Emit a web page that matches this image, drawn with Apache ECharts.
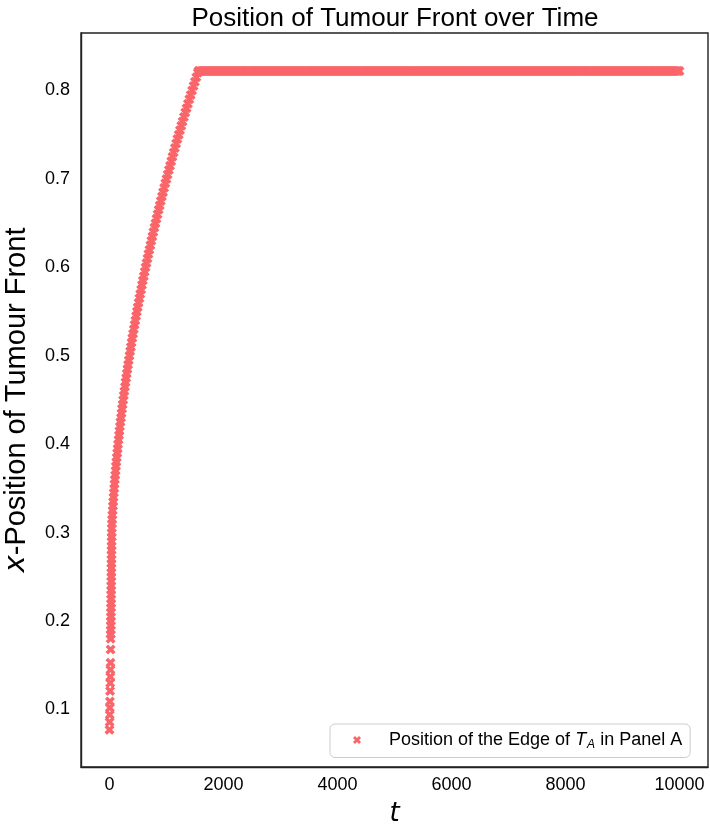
<!DOCTYPE html>
<html>
<head>
<meta charset="utf-8">
<script src="https://cdn.jsdelivr.net/npm/echarts@6/dist/echarts.min.js"></script>
<style>html,body{margin:0;padding:0;background:#fff;}#chart{width:710px;height:825px;}</style>
</head>
<body>
<div id="chart"></div>
<script>
// Rising part of the front position (t, x)
const riseT = [0,2,4,6,8,10,12,14,16,18,19,
20,21,22,23,24,25,26,26,27,28,29,30,30,31,32,33,33,34,35,35,36,37,37,38,39,40,
42,46,50,55,60,65,70,76,82,88,94,100,107,113,120,128,135,143,150,158,167,175,184,192,
202,211,220,230,240,250,260,271,281,292,303,315,326,338,350,362,375,387,400,413,
426,440,453,467,481,495,510,525,539,555,570,585,601,617,633,649,666,683,700,717,
734,752,770,788,806,824,843,862,881,900,920,939,959,979,999,1020,1041,1062,1083,1104,
1126,1147,1169,1191,1214,1236,1259,1282,1305,1329,1352,1376,1400,1424,1449,1474,1498,1524,1549];
const riseX = [0.077,0.086,0.094,0.102,0.109,0.121,0.130,0.137,0.145,0.153,0.168,
0.180,0.185,0.190,0.195,0.200,0.205,0.210,0.215,0.220,0.225,0.230,0.235,0.240,0.245,0.250,0.255,0.260,0.265,0.270,0.275,0.280,0.285,0.290,0.295,0.300,0.305,
0.310,0.315,0.320,0.325,0.330,0.335,0.340,0.345,0.350,0.355,0.360,0.365,0.370,0.375,0.380,0.385,0.390,0.395,0.400,0.405,0.410,0.415,0.420,0.425,
0.430,0.435,0.440,0.445,0.450,0.455,0.460,0.465,0.470,0.475,0.480,0.485,0.490,0.495,0.500,0.505,0.510,0.515,0.520,0.525,
0.530,0.535,0.540,0.545,0.550,0.555,0.560,0.565,0.570,0.575,0.580,0.585,0.590,0.595,0.600,0.605,0.610,0.615,0.620,0.625,
0.630,0.635,0.640,0.645,0.650,0.655,0.660,0.665,0.670,0.675,0.680,0.685,0.690,0.695,0.700,0.705,0.710,0.715,0.720,0.725,
0.730,0.735,0.740,0.745,0.750,0.755,0.760,0.765,0.770,0.775,0.780,0.785,0.790,0.795,0.800,0.805,0.810,0.815,0.820];
// Plateau part: times, all at the same level
const plateauT = [1560,1575,1600,1625,1650,1675,1700,1725,1750,1775,1800,1825,1850,1875,1900,1925,1950,1975,
2000,2025,2050,2075,2100,2125,2150,2175,2200,2225,2250,2275,2300,2325,2350,2375,2400,2425,2450,2475,2500,2525,2550,2575,2600,2625,2650,2675,2700,2725,2750,2775,2800,2825,2850,2875,2900,2925,2950,2975,
3000,3025,3050,3075,3100,3125,3150,3175,3200,3225,3250,3275,3300,3325,3350,3375,3400,3425,3450,3475,3500,3525,3550,3575,3600,3625,3650,3675,3700,3725,3750,3775,3800,3825,3850,3875,3900,3925,3950,3975,
4000,4025,4050,4075,4100,4125,4150,4175,4200,4225,4250,4275,4300,4325,4350,4375,4400,4425,4450,4475,4500,4525,4550,4575,4600,4625,4650,4675,4700,4725,4750,4775,4800,4825,4850,4875,4900,4925,4950,4975,
5000,5025,5050,5075,5100,5125,5150,5175,5200,5225,5250,5275,5300,5325,5350,5375,5400,5425,5450,5475,5500,5525,5550,5575,5600,5625,5650,5675,5700,5725,5750,5775,5800,5825,5850,5875,5900,5925,5950,5975,
6000,6025,6050,6075,6100,6125,6150,6175,6200,6225,6250,6275,6300,6325,6350,6375,6400,6425,6450,6475,6500,6525,6550,6575,6600,6625,6650,6675,6700,6725,6750,6775,6800,6825,6850,6875,6900,6925,6950,6975,
7000,7025,7050,7075,7100,7125,7150,7175,7200,7225,7250,7275,7300,7325,7350,7375,7400,7425,7450,7475,7500,7525,7550,7575,7600,7625,7650,7675,7700,7725,7750,7775,7800,7825,7850,7875,7900,7925,7950,7975,
8000,8025,8050,8075,8100,8125,8150,8175,8200,8225,8250,8275,8300,8325,8350,8375,8400,8425,8450,8475,8500,8525,8550,8575,8600,8625,8650,8675,8700,8725,8750,8775,8800,8825,8850,8875,8900,8925,8950,8975,
9000,9025,9050,9075,9100,9125,9150,9175,9200,9225,9250,9275,9300,9325,9350,9375,9400,9425,9450,9475,9500,9525,9550,9575,9600,9625,9650,9675,9700,9725,9750,9775,9800,9825,9850,9875,9900,9925,9950,9975,10000];
const plateauX = 0.822;
// Tick labels
const xTicks = [0, 2000, 4000, 6000, 8000, 10000];
const yTicks = [0.1, 0.2, 0.3, 0.4, 0.5, 0.6, 0.7, 0.8];

const data = riseT.map((t, i) => [t, riseX[i]]).concat(plateauT.map(t => [t, plateauX]));
const xMarker = 'path://M0,2.5 L2.5,0 L5,2.5 L7.5,0 L10,2.5 L7.5,5 L10,7.5 L7.5,10 L5,7.5 L2.5,10 L0,7.5 L2.5,5 Z';
const color = '#fa656a';
const font = 'Liberation Sans, Arial, sans-serif';

const chart = echarts.init(document.getElementById('chart'), null, {renderer: 'canvas'});
chart.setOption({
  animation: false,
  backgroundColor: '#fff',
  title: {
    text: 'Position of Tumour Front over Time',
    left: 390, top: 1, textAlign: 'center',
    textStyle: {fontFamily: font, fontSize: 26, fontWeight: 'normal', color: '#000'}
  },
  grid: {left: 81, right: 2, top: 33, bottom: 58, show: true, borderColor: '#222', borderWidth: 1.4,
    containLabel: false, outerBoundsMode: 'none'},
  legend: {
    left: 330, top: 724,
    padding: [7, 8, 7, 23],
    borderColor: '#ccc', borderWidth: 1, borderRadius: 5,
    itemWidth: 8, itemHeight: 8,
    icon: xMarker,
    data: ['edge'],
    formatter: () => '{a|Position of the Edge of }{i|T}{s|A}{a| in Panel A}',
    textStyle: {
      padding: [0, 0, 0, 23],
      fontFamily: font, fontSize: 18, color: '#000',
      rich: {
        a: {fontFamily: font, fontSize: 18, color: '#000'},
        i: {fontFamily: font, fontSize: 18, fontStyle: 'italic', color: '#000'},
        s: {fontFamily: font, fontSize: 12, fontStyle: 'italic', color: '#000', padding: [9, 0, 0, 1]}
      }
    }
  },
  xAxis: {
    type: 'value', min: -500, max: 10500,
    name: 't', nameLocation: 'middle', nameGap: 34,
    nameTextStyle: {fontFamily: 'DejaVu Sans', fontStyle: 'italic', fontSize: 26, color: '#000'},
    axisLine: {show: true, onZero: false, lineStyle: {color: '#222', width: 1.4}},
    axisTick: {show: false},
    splitLine: {show: false},
    axisLabel: {customValues: xTicks, margin: 9, fontFamily: font, fontSize: 18, color: '#000', formatter: v => String(v)}
  },
  yAxis: {
    type: 'value', min: 0.035, max: 0.865,
    name: '{i|x}-Position of Tumour Front', nameLocation: 'middle', nameGap: 50,
    nameTextStyle: {fontFamily: font, fontSize: 29, color: '#000',
      rich: {i: {fontFamily: 'DejaVu Sans', fontStyle: 'italic', fontSize: 29, color: '#000'}}},
    axisLine: {show: true, onZero: false, lineStyle: {color: '#222', width: 1.4}},
    axisTick: {show: false},
    splitLine: {show: false},
    axisLabel: {customValues: yTicks, margin: 11, fontFamily: font, fontSize: 18, color: '#000', formatter: v => v.toFixed(1)}
  },
  series: [{
    name: 'edge', type: 'scatter',
    symbol: xMarker, symbolSize: 10,
    itemStyle: {color: color, opacity: 1},
    data: data
  }]
});
</script>
</body>
</html>
